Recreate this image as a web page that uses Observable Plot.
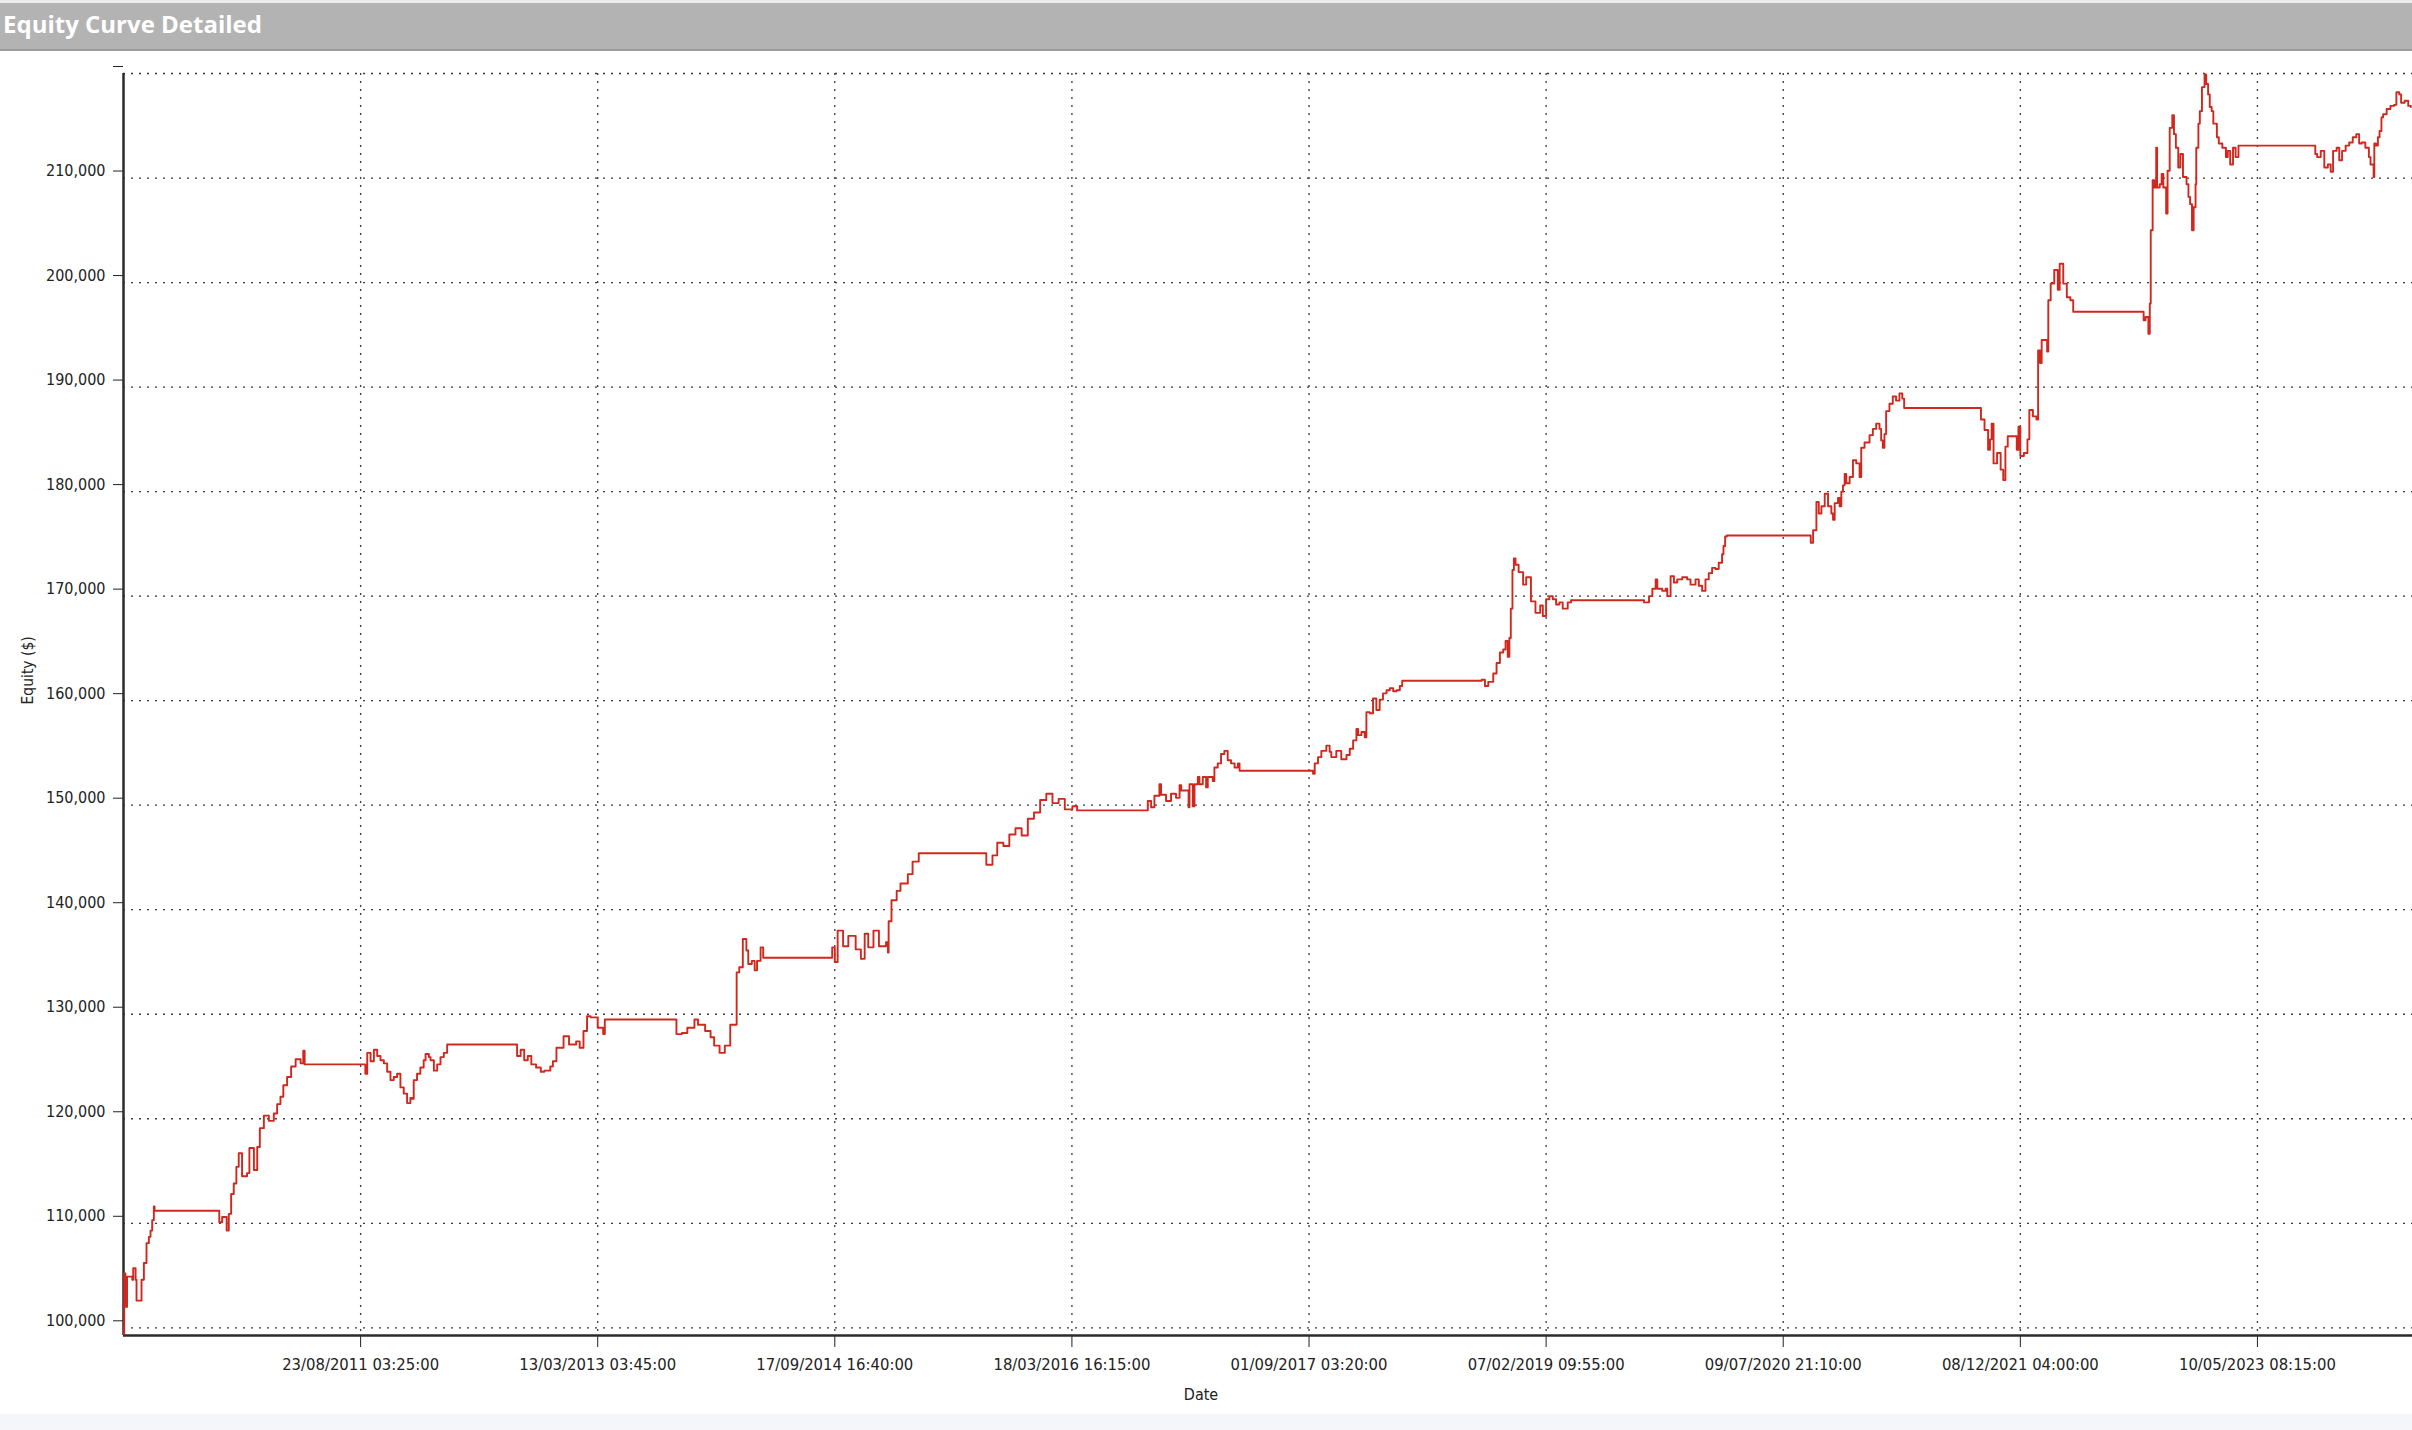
<!DOCTYPE html>
<html><head><meta charset="utf-8">
<script src="https://cdn.jsdelivr.net/npm/d3@7"></script>
<script src="https://cdn.jsdelivr.net/npm/@observablehq/plot@0.6"></script>
<style>
html,body{margin:0;padding:0;background:#fff;}
#wrap{width:2412px;height:1430px;overflow:hidden;background:#fff;}
#topline{height:3px;background:#ececec;}
#title{height:46px;background:#b3b3b3;border-bottom:2px solid #9c9c9c;color:#fff;font:bold 24px "Open Sans",sans-serif;line-height:42px;padding-left:3px;white-space:nowrap;}
#chart svg{display:block;}
#foot{height:16px;background:#f4f6fa;}
</style></head>
<body><div id="wrap"><div id="topline"></div><div id="title">Equity Curve Detailed</div><div id="chart"></div><div id="foot"></div></div>
<script>
// x positions are bar indices; tick labels are the dates of those bars
const tickBars = [1000, 2000, 3000, 4000, 5000, 6000, 7000, 8000, 9000];
const tickLabels = ["23/08/2011 03:25:00", "13/03/2013 03:45:00", "17/09/2014 16:40:00", "18/03/2016 16:15:00",
  "01/09/2017 03:20:00", "07/02/2019 09:55:00", "09/07/2020 21:10:00", "08/12/2021 04:00:00", "10/05/2023 08:15:00"];
const yTicks = [100000, 110000, 120000, 130000, 140000, 150000, 160000, 170000, 180000, 190000, 200000, 210000, 220000];
const xDomain = [0, 9654];
const yDomain = [99264, 220000];

const bars = [0,2,3,8,15,37,41,51,55,72,76,86,97,107,114,121,128,131,402,404,416,435,444,454,465,476,486,500,521,531,550,564,575,592,613,634,648,662,674,690,707,726,747,758,764,
1014,1020,1028,1042,1056,1070,1084,1098,1112,1126,1140,1154,1168,1182,1196,1210,1217,1224,1238,1252,1266,1274,1288,1295,1309,1323,1337,1351,1365,1654,1660,1675,1690,1705,1720,1740,1760,1775,1789,1800,1811,1826,1856,1879,1909,1924,1940,1955,1970,
2000,2023,2030,2325,2332,2355,2378,2408,2423,2453,2476,2491,2514,2536,2551,2559,2582,2586,2597,2612,2627,2635,2650,2662,2672,2687,2698,2979,2989,
3000,3012,3035,3057,3088,3110,3126,3141,3163,3186,3216,3224,3227,3239,3261,3277,3308,3328,3354,3633,3639,3665,3685,3711,3736,3762,3788,3814,3840,3866,3892,3918,3944,3970,
4002,4022,4313,4320,4334,4348,4369,4376,4397,4418,4439,4454,4461,4489,4492,4496,4510,4517,4531,4538,4552,4566,4573,4594,4601,4615,4629,4643,4657,4671,4686,4700,4707,
5010,5017,5024,5038,5052,5073,5087,5094,5115,5136,5158,5172,5186,5200,5207,5221,5235,5242,5256,5270,5284,5298,5312,5327,5341,5355,5369,5383,5393,5721,5728,5742,5756,5777,5791,5805,5819,5829,5838,5845,5851,5858,5864,5871,5884,5903,5916,5936,5955,5975,5986,
6000,6014,6028,6042,6056,6070,6091,6105,6406,6413,6434,6448,6462,6469,6490,6504,6511,6525,6539,6553,6574,6595,6609,6630,6644,6658,6672,6686,6700,6714,6728,6742,6748,6755,6762,
7112,7116,7126,7140,7150,7161,7175,7189,7203,7210,7217,7231,7238,7245,7252,7259,7266,7280,7294,7308,7322,7329,7343,7364,7378,7392,7406,7413,7420,7427,7434,7448,7462,7476,7490,7502,7510,7831,7834,7849,7864,7872,7879,7887,7902,7917,7928,7937,7947,7970,7985,7992,
8000,8015,8030,8038,8053,8068,8075,8083,8090,8113,8118,8128,8143,8158,8166,8181,8196,8211,8223,8516,8520,8528,8540,8546,8550,8558,8565,8573,8577,8588,8596,8603,8615,8621,8630,8641,8648,8656,8666,8675,8686,8701,8709,8716,8724,8731,8739,8742,8751,8757,8766,8777,8784,8792,8799,8807,8814,8829,8837,8852,8867,8875,8885,8897,8908,8920,
9236,9244,9252,9267,9282,9297,9309,9319,9334,9345,9357,9372,9387,9402,9417,9429,9440,9455,9470,9477,9490,9493,9500,9508,9515,9523,9530,9545,9561,9576,9586,9598,9606,9621,9636,9647];

const equity = [100000,99400,105200,102000,104900,104600,105700,104600,102600,102600,104600,106200,108100,108700,109300,110300,111600,111200,111200,110100,110600,109300,110900,112800,113800,115400,116700,114500,114800,117200,115100,117300,119100,120300,119800,120500,121400,122100,123200,124000,125000,125700,125300,126500,125200,
125200,124300,126300,125500,126600,126000,125600,125300,124500,123700,124000,124300,123000,122400,121500,122000,121900,123700,124300,124900,125600,126200,125900,125600,124600,125200,125900,126300,127100,127100,126000,126600,125600,126000,125200,124900,124500,124600,124600,125000,125500,126800,127900,127100,127400,126800,128400,129800,129700,
128700,128100,129500,129500,128100,128200,128700,129500,129000,128400,127800,127000,126300,127000,127000,129000,129000,134000,134500,137200,136100,134800,135100,134200,135100,136400,135400,135400,136400,
135000,138000,136500,137500,136200,135300,137700,136400,138000,136500,136900,135900,138900,140900,141800,142500,143400,144600,145400,145400,144300,145200,146400,146100,147200,147800,147100,148700,149300,150500,151100,150200,150600,149600,
149900,149500,149500,150400,149800,150900,152000,151000,150400,151100,150700,151900,151400,151400,149800,152000,149900,152000,152700,152000,152700,151700,152700,152300,153600,154000,154900,155200,154300,154000,153600,154000,153300,
153300,153000,154000,154600,155200,155700,155100,154600,155200,154400,154800,155400,156200,157300,156700,157000,156500,158900,158800,160200,159100,160100,160700,161000,161200,160900,161000,161400,161900,161900,162000,161400,161800,162600,163600,164600,164900,165700,164200,166000,168800,172500,173600,173000,172300,171100,171800,169500,168400,169100,168100,
169700,170000,169700,169200,169400,168800,169400,169600,169600,169400,170000,170700,171600,170700,170500,170700,170000,171900,171300,171600,171800,171600,171100,171600,171000,170500,171600,172200,172700,172600,173200,174000,174800,175700,175800,
175800,175100,176300,179000,177900,178600,179800,178600,177900,177300,178900,179400,178600,180000,180600,181700,180800,181400,183000,182700,181400,184200,184700,185400,186000,186500,186000,184900,184200,185500,187700,188400,189100,188700,189400,188900,188000,188000,186900,185900,184000,185000,186500,182700,183700,182100,181100,184300,185300,185300,184000,186200,
183400,183700,185000,187800,187200,186900,193500,192300,194500,193400,198300,199900,201200,199300,201800,199900,198600,198300,197200,197200,196400,196700,195100,198000,205000,209800,209100,212900,209100,209400,210400,209100,206600,210700,214800,216000,214200,212900,211000,212300,210100,209400,208200,207500,205000,207200,209400,212900,215200,216400,218700,219900,219000,218000,216800,216400,215200,213900,213300,212900,212000,212600,211300,212900,212000,213100,
213100,212300,212000,212600,211000,211300,210600,212600,212900,211700,212600,213100,213400,213900,214200,213300,213400,212900,212000,211300,210100,213300,213100,213900,214500,215800,216100,216600,216900,217000,218200,218000,217200,217400,216900,216800];

const data = bars.map((b, i) => ({bar: b, equity: equity[i]}));
const labelOf = new Map(tickBars.map((b, i) => [b, tickLabels[i]]));
const fmt = d3.format(",");
const gridStyle = {stroke: "#3a3a3a", strokeOpacity: 1, strokeWidth: 1.3, strokeDasharray: "2,6"};

const chart = Plot.plot({
  width: 2412, height: 1363,
  marginTop: 22, marginBottom: 79, marginLeft: 123, marginRight: 0,
  style: {fontFamily: '"DejaVu Sans Condensed","DejaVu Sans",sans-serif', fontStretch: "condensed", fontSize: "16px", color: "#222", background: "#fff"},
  x: {domain: xDomain},
  y: {domain: yDomain},
  marks: [
    Plot.gridY(yTicks, gridStyle),
    Plot.gridX(tickBars, gridStyle),
    Plot.axisY(yTicks, {tickSize: 10, tickPadding: 8, tickFormat: d => d === 220000 ? "" : fmt(d), dy: -7, label: null, fontSize: 16}),
    Plot.axisX(tickBars, {tickSize: 12, tickPadding: 11, tickFormat: d => labelOf.get(d), label: null, fontSize: 16.5}),
    Plot.ruleX([xDomain[0]], {stroke: "#2b2b2b", strokeWidth: 2.5}),
    Plot.ruleY([yDomain[0]], {stroke: "#2b2b2b", strokeWidth: 2.5}),
    Plot.line(data, {x: "bar", y: "equity", stroke: "#d0281e", strokeWidth: 1.9, curve: "step-after"}),
    Plot.text(["Equity ($)"], {frameAnchor: "left", dx: -95, rotate: -90, fontSize: 15.5, fill: "#222"}),
    Plot.text(["Date"], {frameAnchor: "bottom", dx: -67, dy: 64, fontSize: 16, fill: "#222"})
  ]
});
document.getElementById("chart").appendChild(chart);
</script></body></html>
